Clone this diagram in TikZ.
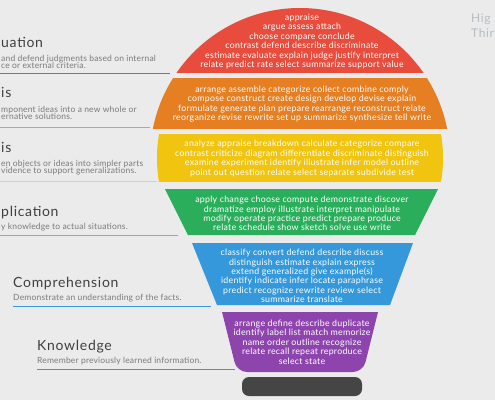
\documentclass[tikz,border=0pt]{standalone}
\usepackage{fontspec}
\setmainfont{Lato}
\newfontfamily\wordfont[LetterSpace=3]{Lato}
\newfontfamily\titlefont[LetterSpace=5]{Lato}
\newfontfamily\hintfont[LetterSpace=2]{Lato}
\lineskiplimit=-10pt
\definecolor{bg}{HTML}{EBEBEB}
\definecolor{evalred}{HTML}{E74C3C}
\definecolor{synorange}{HTML}{E67E22}
\definecolor{anayellow}{HTML}{F1C40F}
\definecolor{appgreen}{HTML}{2BAE5B}
\definecolor{compblue}{HTML}{3498DB}
\definecolor{knowpurple}{HTML}{8E44AD}
\definecolor{basegray}{HTML}{454545}
\definecolor{titlegray}{HTML}{3F3F3F}
\definecolor{descgray}{HTML}{7A7A7A}
\definecolor{sidegray}{HTML}{B5BDC1}
\begin{document}
\begin{tikzpicture}[x=1pt, y=-1pt,
  verbs/.style={text=white, align=center, inner sep=0pt, font=\wordfont\fontsize{8.8}{9.4}\selectfont},
  level/.style={anchor=base west, inner sep=0pt, text=titlegray, font=\titlefont\fontsize{14}{16}\selectfont},
  hint/.style={anchor=base west, inner sep=0pt, text=descgray, font=\hintfont\fontsize{8.5}{9}\selectfont},
  rulebar/.style={line width=1pt}]
  \useasboundingbox (0,0) rectangle (495,400);
  \fill[bg] (0,0) rectangle (495,400);
  % the bulb, top to bottom
  \begin{scope}
    \clip (0,0) rectangle (495,72);
    \fill[evalred] (300,158) circle (150pt);
  \end{scope}
  \begin{scope}
    \clip (0,78) rectangle (495,128);
    \fill[synorange] (300,158) circle (150pt);
  \end{scope}
  \begin{scope}
    \clip (0,134) rectangle (495,181);
    \fill[anayellow] (300,158) circle (143pt);
  \end{scope}
  \fill[appgreen] (165,189) -- (438,189) -- (415,235) -- (188,235) -- cycle;
  \fill[compblue] (192,243) -- (413,243) -- (390,305) -- (217,305) -- cycle;
  \fill[knowpurple] (300,312) -- (222,312) [rounded corners=10pt] -- (237,372) -- (363,372) [sharp corners] -- (378,312) -- cycle;
  \fill[basegray, rounded corners=7pt] (242,377) rectangle (362,396);
  % verbs
  \node[verbs] (evalverbs) at (302,41.5) {appraise\\ argue assess attach\\ choose compare conclude\\ contrast defend describe discriminate\\ estimate evaluate explain judge justify interpret\\ relate predict rate select summarize support value};
  \node[verbs] (synverbs) at (302,104) {arrange assemble categorize collect combine comply\\ compose construct create design develop devise explain\\ formulate generate plan prepare rearrange reconstruct relate\\ reorganize revise rewrite set up summarize synthesize tell write};
  \node[verbs] (anaverbs) at (302,158.5) {analyze appraise breakdown calculate categorize compare\\ contrast criticize diagram differentiate discriminate distinguish\\ examine experiment identify illustrate infer model outline\\ point out question relate select separate subdivide test};
  \node[verbs] (appverbs) at (302,213.5) {apply change choose compute demonstrate discover\\ dramatize employ illustrate interpret manipulate\\ modify operate practice predict prepare produce\\ relate schedule show sketch solve use write};
  \node[verbs] (compverbs) at (302,276) {classify convert defend describe discuss\\ distinguish estimate explain express\\ extend generalized give example(s)\\ identify indicate infer locate paraphrase\\ predict recognize rewrite review select\\ summarize translate};
  \node[verbs] (knowverbs) at (302,342) {arrange define describe duplicate\\ identify label list match memorize\\ name order outline recognize\\ relate recall repeat reproduce\\ select state};
  % levels on the left
  \node[level] (evaltitle) at (1,47) {uation};
  \node[hint] (evalhinta) at (1,61) {and defend judgments based on internal};
  \node[hint] (evalhintb) at (1,68.5) {ce or external criteria.};
  \draw[rulebar, evalred] (0,73) -- (170,73);
  \node[level] (syntitle) at (1,97) {is};
  \node[hint] (synhinta) at (1,112) {mponent ideas into a new whole or};
  \node[hint] (synhintb) at (1,119.5) {ernative solutions.};
  \draw[rulebar, synorange!80] (0,127) -- (150,127);
  \node[level] (anatitle) at (1,152) {is};
  \node[hint] (anahinta) at (1,166) {en objects or ideas into simpler parts};
  \node[hint] (anahintb) at (1,173.5) {vidence to support generalizations.};
  \draw[rulebar, anayellow!70] (0,181) -- (157,181);
  \node[level] (apptitle) at (1,216) {plication};
  \node[hint] (apphint) at (1,229) {y knowledge to actual situations.};
  \draw[rulebar, appgreen!70] (0,235) -- (178,235);
  \node[level] (comptitle) at (13,287) {Comprehension};
  \node[hint] (comphint) at (13,300) {Demonstrate an understanding of the facts.};
  \draw[rulebar, compblue] (13,306) -- (211,306);
  \node[level] (knowtitle) at (37,350) {Knowledge};
  \node[hint] (knowhint) at (37,363) {Remember previously learned information.};
  \draw[rulebar, knowpurple!80] (37,369) -- (235,369);
  % side heading at the right edge
  \node[level, text=sidegray, font=\titlefont\fontsize{12}{14}\selectfont] (sidea) at (471,22) {Hig};
  \node[level, text=sidegray, font=\titlefont\fontsize{12}{14}\selectfont] (sideb) at (471,37) {Thir};
\end{tikzpicture}
\end{document}
